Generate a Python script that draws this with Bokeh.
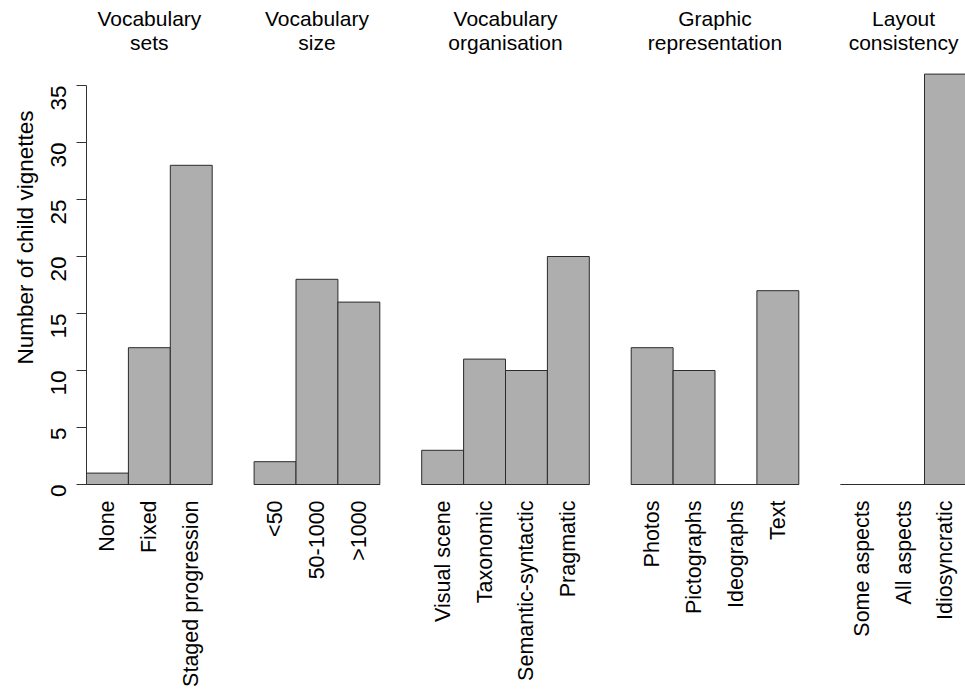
import math
import numpy as np
from bokeh.plotting import figure
from bokeh.models import Range1d, FixedTicker, ColumnDataSource
from bokeh.core.properties import value
from bokeh.embed import file_html
from bokeh.resources import INLINE

# ---- data ----
group_titles = ["Vocabulary\nsets", "Vocabulary\nsize", "Vocabulary\norganisation",
                "Graphic\nrepresentation", "Layout\nconsistency"]
vocab_sets_labels = ["None", "Fixed", "Staged progression"]
vocab_sets_counts = [1, 12, 28]
vocab_size_labels = ["<50", "50-1000", ">1000"]
vocab_size_counts = [2, 18, 16]
vocab_org_labels = ["Visual scene", "Taxonomic", "Semantic-syntactic", "Pragmatic"]
vocab_org_counts = [3, 11, 10, 20]
graphic_labels = ["Photos", "Pictographs", "Ideographs", "Text"]
graphic_counts = [12, 10, 0, 17]
layout_labels = ["Some aspects", "All aspects", "Idiosyncratic"]
layout_counts = [0, 0, 36]
y_ticks = [0, 5, 10, 15, 20, 25, 30, 35]
y_title = "Number of child vignettes"

groups = [
    (vocab_sets_labels, vocab_sets_counts),
    (vocab_size_labels, vocab_size_counts),
    (vocab_org_labels, vocab_org_counts),
    (graphic_labels, graphic_counts),
    (layout_labels, layout_counts),
]

# ---- layout (bar slots, one empty slot between groups) ----
xs, tops, labels = [], [], []
g_centers, g_starts, g_ends = [], [], []
pos = 0.0
for labs, vals in groups:
    n = len(labs)
    centers = pos + np.arange(n) + 0.5
    xs.extend(centers.tolist())
    tops.extend(vals)
    labels.extend(labs)
    g_centers.append(pos + n / 2.0)
    g_starts.append(pos)
    g_ends.append(pos + n)
    pos += n + 1

W, H = 965, 692
X0, Y0 = 86, 484      # page position of the data origin
UX = 41.9             # px per bar slot
UY = 11.4             # px per count
FONT = value("Liberation Sans")

p = figure(width=W, height=H,
           x_range=Range1d(-X0 / UX, (W - X0) / UX),
           y_range=Range1d(-(H - Y0) / UY, Y0 / UY),
           output_backend="svg", toolbar_location=None,
           x_axis_location=None, min_border=0)
p.min_border_left = 0
p.min_border_right = 0
p.min_border_top = 0
p.min_border_bottom = 0
p.outline_line_color = None
p.xgrid.visible = False
p.ygrid.visible = False
p.background_fill_color = "white"

ax = p.yaxis[0]
ax.fixed_location = 0
ax.ticker = FixedTicker(ticks=y_ticks)
ax.bounds = (0, 35)
ax.major_tick_out = 10
ax.major_tick_in = 0
ax.minor_tick_out = 0
ax.minor_tick_in = 0
ax.major_label_orientation = math.pi / 2
ax.major_label_standoff = 18
ax.major_label_text_font = "Liberation Sans"
ax.major_label_text_font_size = "22.5px"
ax.major_label_text_color = "black"
ax.axis_line_color = "#333333"
ax.major_tick_line_color = "#333333"

src = ColumnDataSource(dict(x=xs, top=tops, label=labels))
p.vbar(x="x", top="top", bottom=0, width=1.0, source=src,
       fill_color="#AEAEAE", line_color="#2b2b2b", line_width=1)
p.segment(x0=g_starts, x1=g_ends, y0=[0] * len(g_starts), y1=[0] * len(g_starts),
          line_color="#2b2b2b", line_width=1)

p.text(x="x", y=-1.4, text="label", source=src, angle=math.pi / 2,
       text_align="right", text_baseline="middle", text_font=FONT,
       text_font_size="21.5px", text_color="black")

p.text(x=g_centers, y=[39.8] * len(g_centers), text=group_titles,
       text_align="center", text_baseline="middle", text_font=FONT,
       text_font_size="21px", text_color="black", text_line_height=1.05)

p.text(x=[(25 - X0) / UX], y=[(Y0 - 237) / UY], text=[y_title], angle=math.pi / 2,
       text_align="center", text_baseline="middle", text_font=FONT,
       text_font_size="22.5px", text_color="black")

open("out.html", "w").write(file_html(p, INLINE))
